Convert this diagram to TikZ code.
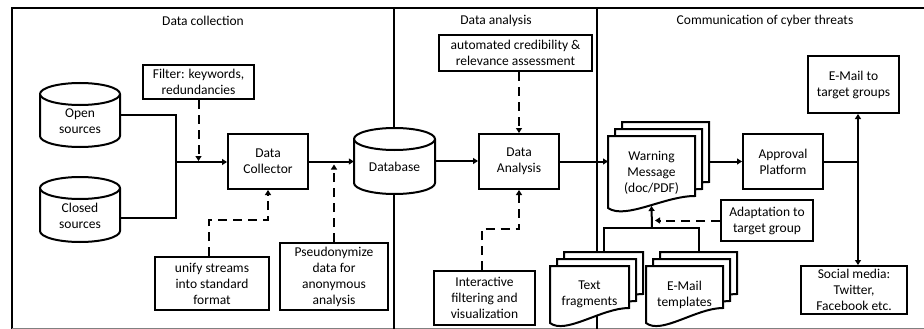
\documentclass[tikz,border=0pt]{standalone}
\usepackage{fontspec}
\setmainfont{Carlito}
\usetikzlibrary{calc,arrows.meta}
\tikzstyle{box} = [rectangle, draw=black, line width=2pt, fill=white, align=center, inner sep=1pt]
\tikzstyle{page} = [draw=black, line width=2pt, fill=white]
\tikzstyle{doctext} = [align=center, inner sep=0pt]
\tikzstyle{link} = [line width=2pt]
\tikzstyle{arrow} = [line width=2pt, -{Triangle[length=5pt,width=6pt]}]
\tikzstyle{dasharrow} = [arrow, dash pattern=on 9pt off 6pt]
% cylinder: name, center x, center y, half width, half height, text
\newcommand{\dbstore}[6]{%
  \draw[page] ({#2-#4},{#3-#5+11}) -- ({#2-#4},{#3+#5-11})
    arc[start angle=180, end angle=360, x radius=#4pt, y radius=11pt]
    -- ({#2+#4},{#3-#5+11})
    arc[start angle=0, end angle=180, x radius=#4pt, y radius=11pt] -- cycle;
  \draw[page] ({#2-#4},{#3-#5+11}) arc[start angle=180, end angle=360, x radius=#4pt, y radius=11pt];
  \node[inner sep=0pt, minimum width=2*#4pt, minimum height=2*#5pt,
    label={[yshift=-6pt,align=center]center:#6}] (#1) at (#2,#3) {};
}
% stack of three pages: name, x, y (top left of front page), width, right height, left height, text
\newcommand{\docstack}[7]{%
  \foreach \o in {14,7,0}{
    \draw[page] ({#2+\o},{#3-\o}) -- ({#2+\o+#4},{#3-\o}) -- ({#2+\o+#4},{#3-\o+#5})
      .. controls ({#2+\o+0.65*#4},{#3-\o+#5}) and ({#2+\o+0.2*#4},{#3-\o+#6+12}) .. ({#2+\o},{#3-\o+#6}) -- cycle;
  }
  \node[doctext] (#1) at ({#2+#4/2},{#3+(#5+#6)/4+4}) {#7};
  \coordinate (#1-n) at ({#2+14+#4/2},{#3-14});
  \coordinate (#1-w) at (#2,#3);
  \coordinate (#1-e) at ({#2+14+#4},#3);
  \coordinate (#1-s) at ({#2+#4/2},{#3+#6-2});
}

\begin{document}
\begin{tikzpicture}[x=1pt, y=-1pt, font=\fontsize{13.5}{16}\selectfont]
    \useasboundingbox (0,0) rectangle (924,329);
    % frame and dividers
    \draw[line width=2.5pt] (12,329) -- (12,8) -- (924,8);
    \draw[gray, line width=1pt] (12,328.5) -- (924,328.5);
    \draw[link] (394,8) -- (394,329);
    \draw[link] (597,8) -- (597,329);

    \node (t1) at (203,21) {Data collection};
    \node (t2) at (496,21) {Data analysis};
    \node (t3) at (765,21) {Communication of cyber threats};

    \dbstore{open}{80}{115}{40}{32}{Open\\sources}
    \dbstore{closed}{80}{209.5}{40}{32.5}{Closed\\sources}
    \node[box, minimum width=111pt, minimum height=34pt] (filter) at (198.5,82) {Filter: keywords,\\redundancies};
    \node[box, minimum width=80pt, minimum height=55pt] (collector) at (268,161.5) {Data\\Collector};
    \node[box, minimum width=114pt, minimum height=53pt] (unify) at (212,283.5) {unify streams\\into standard\\format};
    \node[box, minimum width=108pt, minimum height=67pt] (pseudo) at (334,276.5) {Pseudonymize\\data for\\anonymous\\analysis};
    \dbstore{db}{394.5}{161}{40.5}{33}{Database}

    \node[box, minimum width=153pt, minimum height=36pt] (autom) at (515.5,53) {automated credibility \&\\relevance assessment};
    \node[box, minimum width=80pt, minimum height=55pt] (analysis) at (519,161.5) {Data\\Analysis};
    \node[box, minimum width=101pt, minimum height=54pt] (interactive) at (484.5,298) {Interactive\\filtering and\\visualization};

    \docstack{warn}{608}{136}{87}{60}{72}{Warning\\Message\\(doc/PDF)}
    \docstack{frag}{550}{266}{79}{42}{57}{Text\\fragments}
    \docstack{tmpl}{646}{266}{77}{42}{57}{E-Mail\\templates}
    \node[box, minimum width=80pt, minimum height=55pt] (approval) at (783,161.5) {Approval\\Platform};
    \node[box, minimum width=91pt, minimum height=57pt] (email) at (853.5,84.5) {E-Mail to\\target groups};
    \node[box, minimum width=106pt, minimum height=48pt] (social) at (854,290) {Social media:\\Twitter,\\Facebook etc.};
    \node[box, minimum width=92pt, minimum height=41pt] (adapt) at (767,220.5) {Adaptation to\\target group};

    \coordinate (j1) at (176,162);
    \draw[link] (open.east) -| (j1);
    \draw[link] ($(closed.east)+(0,8)$) -| (j1);
    \draw[arrow] (j1) -- (j1 -| collector.west);
    \draw[dasharrow, shorten >=1pt] (filter.south) -- (filter.south |- j1);
    \draw[dasharrow] ($(unify.north)+(-3,0)$) -- ++(0,-36) -| (collector.south);
    \draw[arrow] (collector.east) -- (collector.east -| db.west);
    \draw[dasharrow] (pseudo.north) -- ($(pseudo.north |- collector.east)+(0,3)$);

    \draw[arrow] (db.east) -- (db.east -| analysis.west);
    \draw[dasharrow] (autom.south -| analysis.north) -- (analysis.north);
    \draw[dasharrow] ($(interactive.north)+(-3,0)$) -- ++(0,-41) -| (analysis.south);
    \draw[arrow] (analysis.east) -- (analysis.east -| warn-w);

    \draw[arrow] (analysis.east -| warn-e) -- (approval.west);
    \coordinate (j2) at (858,161.5);
    \draw[link] (approval.east) -- (j2);
    \draw[arrow] (j2) -- (j2 |- email.south);
    \draw[arrow] (j2) -- (j2 |- social.north);
    \coordinate (j3) at (652,228);
    \draw[link] (frag-n) |- (j3) -| (tmpl-n);
    \draw[arrow] (j3) -- (warn-s);
    \draw[dasharrow] (adapt.west) -- ($(adapt.west -| j3)+(3,0)$);
\end{tikzpicture}
\end{document}
